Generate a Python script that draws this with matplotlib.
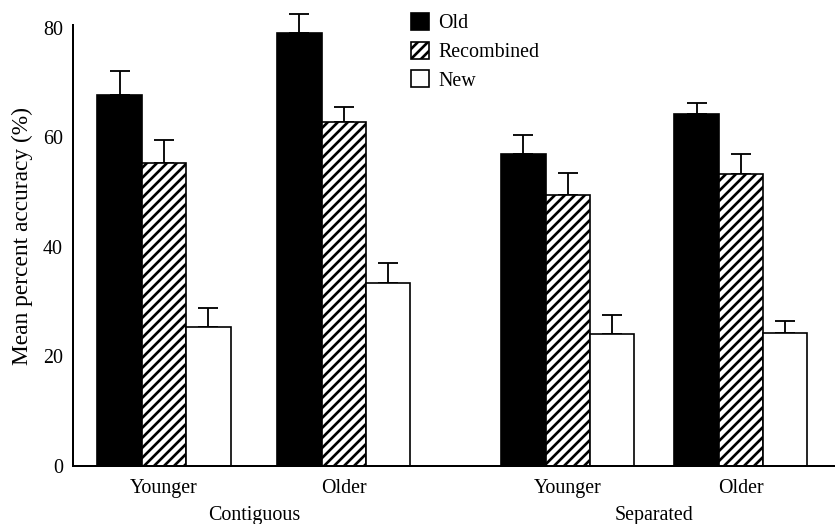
import matplotlib
matplotlib.use("Agg")
import matplotlib.pyplot as plt
from matplotlib.patches import Patch
import numpy as np

# ---- data ----
groups = ["Younger", "Older", "Younger", "Older"]
conditions = ["Contiguous", "Separated"]
series = ["Old", "Recombined", "New"]
old_vals = [67.8, 79.0, 56.9, 64.2]
old_err = [4.3, 3.6, 3.6, 2.0]
rec_vals = [55.3, 62.8, 49.4, 53.3]
rec_err = [4.2, 2.8, 4.1, 3.6]
new_vals = [25.4, 33.5, 24.1, 24.2]
new_err = [3.5, 3.6, 3.5, 2.3]
yticks = [0, 20, 40, 60, 80]

# ---- layout ----
DPI = 120
plt.rcParams['font.family'] = ['Liberation Serif', 'DejaVu Serif']
plt.rcParams['hatch.linewidth'] = 1.6
fig = plt.figure(figsize=(835 / DPI, 524 / DPI), dpi=DPI)
ax = fig.add_axes([73 / 835, 58 / 524, (835 - 73) / 835, (466 - 6) / 524])

group_pos = np.array([0.0, 4.05, 9.1, 13.0])
width = 1.0
FS = 12
ekw = dict(elinewidth=1.1, capthick=1.1, ecolor='black')
styles = [dict(color='black', edgecolor='black'),
          dict(color='white', edgecolor='black', hatch='////'),
          dict(color='white', edgecolor='black')]
vals = [old_vals, rec_vals, new_vals]
errs = [old_err, rec_err, new_err]
for i, (v, e, st) in enumerate(zip(vals, errs, styles)):
    x = group_pos + (i - 1) * width
    ax.bar(x, v, width, linewidth=1.0, zorder=2, **st)
    ax.errorbar(x, v, yerr=[np.zeros(len(e)), e], fmt='none', capsize=6.2,
                zorder=1, **ekw)

ax.set_xlim(-2.05, 15.12)
ax.set_ylim(0, 84)
ax.spines['top'].set_visible(False)
ax.spines['right'].set_visible(False)
ax.spines['left'].set_bounds(0, 80.6)
for s in ('left', 'bottom'):
    ax.spines[s].set_linewidth(1.2)
ax.set_yticks(yticks)
ax.set_yticklabels([str(t) for t in yticks], fontsize=FS)
ax.tick_params(axis='y', length=0, pad=6)
ax.set_xticks(group_pos)
ax.set_xticklabels(groups, fontsize=FS)
ax.tick_params(axis='x', length=0, pad=8)
ax.set_ylabel("Mean percent accuracy (%)", fontsize=14, labelpad=6)

for k, cond in enumerate(conditions):
    cx = (group_pos[2 * k] + group_pos[2 * k + 1]) / 2
    ax.text(cx, -0.086, cond, transform=ax.get_xaxis_transform(),
            ha='center', va='top', fontsize=FS)

handles = [Patch(facecolor='black', edgecolor='black', linewidth=1.0),
           Patch(facecolor='white', edgecolor='black', hatch='////', linewidth=1.0),
           Patch(facecolor='white', edgecolor='black', linewidth=1.0)]
leg = fig.legend(handles, series, loc='upper left',
                 bbox_to_anchor=(411 / 835, 1 - 13 / 524), frameon=False,
                 fontsize=FS, handlelength=0.92, handleheight=0.92,
                 handletextpad=0.45, labelspacing=0.42, borderpad=0,
                 borderaxespad=0)

fig.savefig("out.png", dpi=DPI)
